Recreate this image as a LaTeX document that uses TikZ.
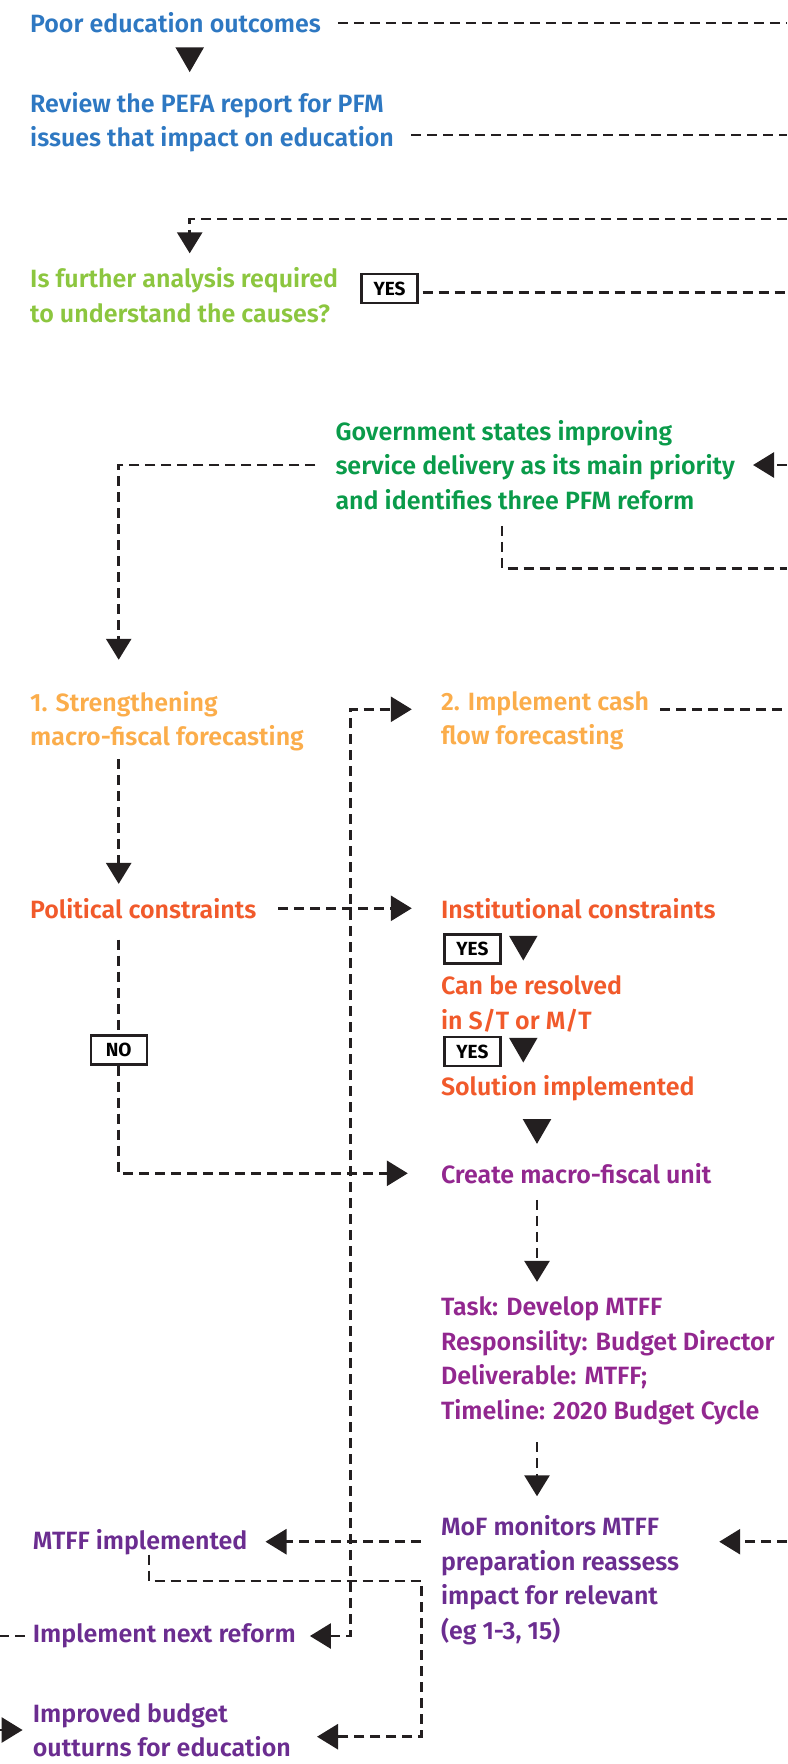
\documentclass[tikz,border=0pt]{standalone}
\usepackage{fontspec}
\setmainfont{Fira Sans}[BoldFont={Fira Sans SemiBold}]
\newfontfamily\tagfont{Fira Sans Bold}
\usetikzlibrary{arrows.meta,shapes.geometric}

\definecolor{inkline}{HTML}{231F20}
\definecolor{stepblue}{HTML}{2E78C2}
\definecolor{asklime}{HTML}{8CC63F}
\definecolor{govgreen}{HTML}{0A9B4A}
\definecolor{reformorange}{HTML}{FBAD4B}
\definecolor{limitred}{HTML}{F15A2B}
\definecolor{unitpurple}{HTML}{92278F}
\definecolor{endviolet}{HTML}{6B2D90}

\begin{document}
\begin{tikzpicture}[x=1pt, y=-1pt,
txt/.style = {anchor=west, inner sep=0, align=left, font=\fontsize{25}{34.5}\selectfont\bfseries},
tag/.style = {draw=inkline, fill=white, line width=2.2pt, inner sep=0, minimum width=56pt, minimum height=29pt, font=\fontsize{19}{19}\tagfont},
link/.style = {draw=inkline, line width=2.8pt, dash pattern=on 10pt off 6pt},
arr/.style = {link, -{Triangle[length=21pt,width=25pt]}},
head/.style = {regular polygon, regular polygon sides=3, shape border rotate=180, fill=inkline, inner sep=0, minimum size=33pt}]
\useasboundingbox (0,0) rectangle (787,1764);
\coordinate (rim) at (787,0);
\coordinate (lrim) at (0,0);

\node[txt, stepblue] at (30,23) (poor) {Poor education outcomes};
\node[head] at (189.7,55.6) (h1) {};
\node[txt, stepblue] at (30,122) (review) {Review the PEFA report for PFM\\issues that impact on education};
\node[txt, asklime] at (30,295) (further) {Is further analysis required\\to understand the causes?};
\node[tag] at (389.5,288.7) (yes1) {YES};
\node[txt, govgreen] at (335.3,465) (gov) {Government states improving\\service delivery as its main priority\\and identifies three PFM reform};

\node[txt, reformorange] at (30,721) (strength) {1. Strengthening\\macro-fiscal forecasting};
\node[txt, reformorange] at (440.8,721) (cash) {2. Implement cash\\flow forecasting};
\node[txt, limitred] at (30,908.3) (political) {Political constraints};
\node[txt, limitred] at (440.8,908.3) (institutional) {Institutional constraints};
\node[tag] at (472.4,949) (yes2) {YES};
\node[head] at (523.3,944) (h2) {};
\node[txt, limitred] at (440.8,1003.7) (resolve) {Can be resolved\\in S/T or M/T};
\node[tag] at (472.4,1051.5) (yes3) {YES};
\node[head] at (523.3,1046) (h3) {};
\node[txt, limitred] at (440.8,1087.7) (solution) {Solution implemented};
\node[head] at (537,1127.3) (h4) {};
\node[tag] at (118.7,1050) (no) {NO};

\node[txt, unitpurple] at (440.8,1173.3) (create) {Create macro-fiscal unit};
\node[txt, unitpurple] at (440.8,1361) (task) {Task: Develop MTFF\\Responsility: Budget Director\\Deliverable: MTFF;\\Timeline: 2020 Budget Cycle};
\node[txt, endviolet] at (440.8,1580) (mof) {MoF monitors MTFF\\preparation reassess\\impact for relevant\\(eg 1-3, 15)};
\node[txt, endviolet] at (32.6,1541.7) (mtffimpl) {MTFF implemented};
\node[txt, endviolet] at (32.6,1636) (nextreform) {Implement next reform};
\node[txt, endviolet] at (32.6,1730) (improved) {Improved budget\\outturns for education};

\coordinate (r1) at (787,135);
\coordinate (loopin) at (787,219);
\coordinate (y1) at (787,292.7);
\coordinate (g2) at (502,568.3);
\coordinate (g3) at (787,568.3);
\coordinate (laneB) at (350.4,709.3);
\coordinate (dropA) at (149,1581);
\coordinate (laneC) at (421.7,1736.7);

\draw[link, shorten <=17pt] (poor.east) -- (poor.east -| rim);
\draw[link, shorten <=17pt] (review.east |- r1) -- (r1);
\draw[arr, shorten >=14pt] (loopin) -| (further.north -| h1);
\draw[link, shorten <=4pt] (yes1.east |- y1) -- (y1);
\draw[arr, shorten >=18pt] (gov.east -| rim) -- (gov.east);
\draw[arr, shorten <=20pt, shorten >=31pt] (gov.west) -| (strength.north -| no);
\draw[link, shorten <=16pt] (gov.south -| g2) -- (g2) -- (g3);

\draw[link, shorten <=11pt] (cash.east |- laneB) -- (laneB -| rim);
\draw[arr, shorten <=8pt, shorten >=14pt] (strength.south -| no) -- (political.north -| no);
\draw[arr, shorten <=22pt, shorten >=29pt] (political.east) -- (institutional.west);
\draw[link, shorten <=21pt] (political.south -| no) -- (no.north);
\draw[arr, shorten >=33pt] (no.south) |- (create.west);
\draw[link, {Triangle[length=21pt,width=25pt]}-{Triangle[length=21pt,width=25pt]}, shorten <=14pt, shorten >=29pt] (nextreform.east) -| (laneB) -- (laneB -| cash.west);

\draw[arr, shorten <=16pt, shorten >=15pt] (create.south -| h4) -- (task.north -| h4);
\draw[arr, shorten <=17pt, shorten >=19pt] (task.south -| h4) -- (mof.north -| h4);
\draw[arr, shorten >=40pt] (mtffimpl -| rim) -- (mtffimpl -| mof.east);
\draw[arr, shorten <=20pt, shorten >=18pt] (mtffimpl -| mof.west) -- (mtffimpl.east);
\draw[arr, shorten >=26pt] (mtffimpl.south -| dropA) -- (dropA) -| (laneC) -- (laneC -| improved.east);
\draw[link, shorten <=8pt] (nextreform.west) -- (nextreform.west -| lrim);
\draw[arr, shorten >=10pt] (improved.west -| lrim) -- (improved.west);
\end{tikzpicture}
\end{document}
